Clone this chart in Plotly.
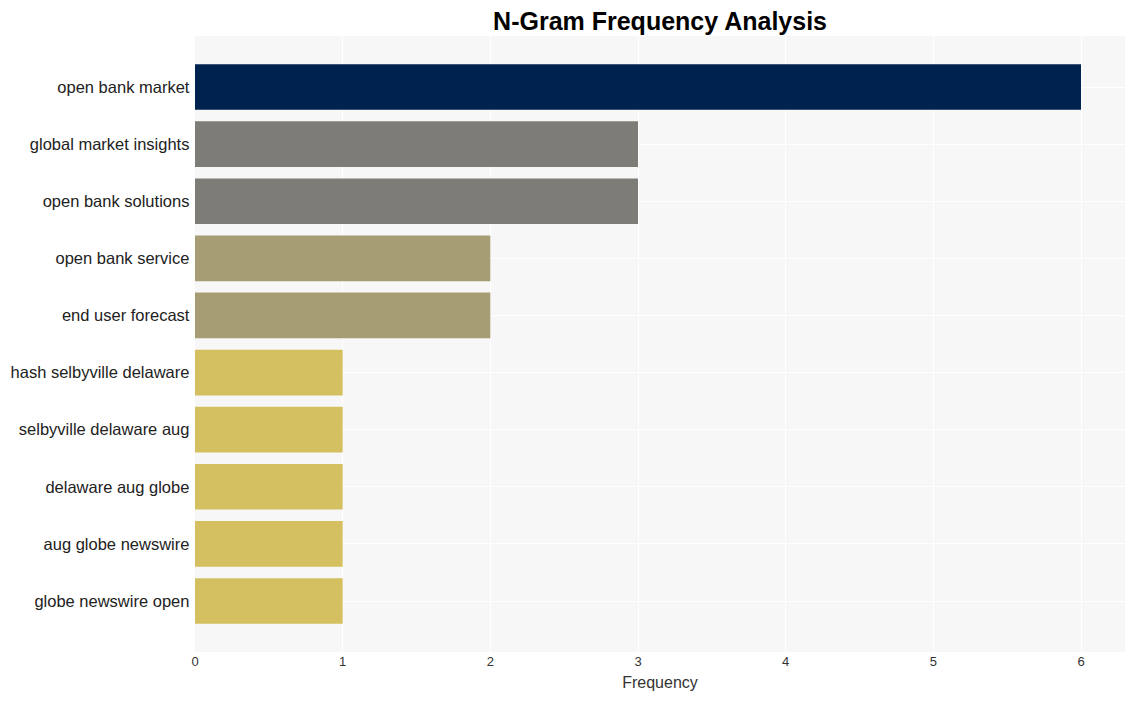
import plotly.graph_objects as go

ngrams = ["open bank market", "global market insights", "open bank solutions",
          "open bank service", "end user forecast", "hash selbyville delaware",
          "selbyville delaware aug", "delaware aug globe", "aug globe newswire",
          "globe newswire open"]
counts = [6, 3, 3, 2, 2, 1, 1, 1, 1, 1]
bar_colors = ["#00224f", "#7e7c76", "#7e7c76", "#a69d74", "#a69d74",
              "#d4c060", "#d4c060", "#d4c060", "#d4c060", "#d4c060"]

n = len(ngrams)
fig = go.Figure(go.Bar(
    x=counts, y=ngrams, orientation="h",
    marker=dict(color=bar_colors, line=dict(width=0)),
    width=0.8,
))
fig.update_layout(
    width=1119, height=685,
    margin=dict(l=187, r=2, t=28, b=41),
    paper_bgcolor="white", plot_bgcolor="#f7f7f7",
    font=dict(family="Liberation Sans, Arial, sans-serif", color="#333333"),
    title=dict(text="<b>N-Gram Frequency Analysis</b>", x=0.5827, xanchor="center",
               y=0.9805, yanchor="middle",
               font=dict(size=25, color="black", family="Liberation Sans, Arial, sans-serif")),
    showlegend=False,
)
fig.update_xaxes(
    title=dict(text="Frequency", font=dict(size=16, color="#333333"), standoff=8),
    tickfont=dict(size=13, color="#333333"),
    gridcolor="white", gridwidth=1, zeroline=False,
    dtick=1, tick0=0, range=[0, 6.298], ticks="", showline=False,
)
fig.update_yaxes(
    categoryorder="array", categoryarray=ngrams,
    range=[n - 1 + 0.893, -0.893],
    tickfont=dict(size=16.5, color="#222222"),
    gridcolor="white", gridwidth=1, ticks="", showline=False,
    ticksuffix=" ",
)
fig.write_html("out.html")
